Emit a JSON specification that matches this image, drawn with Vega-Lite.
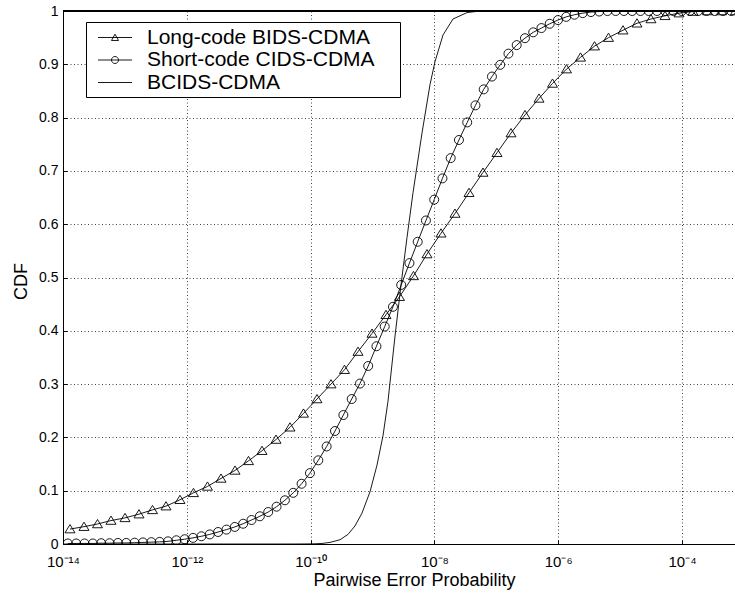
{
  "$schema": "https://vega.github.io/schema/vega-lite/v6.json",
  "width": 672,
  "height": 533,
  "autosize": {"type": "none"},
  "padding": {"left": 63, "top": 11, "right": 0, "bottom": 49},
  "background": "white",
  "config": {"view": {"stroke": null}, "font": "Liberation Sans"},
  "data": {"values": [
    {"series":"Long-code BIDS-CDMA","pep":1.297e-14,"cdf":0.028},
    {"series":"Long-code BIDS-CDMA","pep":2.183e-14,"cdf":0.0325},
    {"series":"Long-code BIDS-CDMA","pep":3.607e-14,"cdf":0.0375},
    {"series":"Long-code BIDS-CDMA","pep":5.96e-14,"cdf":0.044},
    {"series":"Long-code BIDS-CDMA","pep":1.004e-13,"cdf":0.049},
    {"series":"Long-code BIDS-CDMA","pep":1.690e-13,"cdf":0.056},
    {"series":"Long-code BIDS-CDMA","pep":2.793e-13,"cdf":0.064},
    {"series":"Long-code BIDS-CDMA","pep":4.613e-13,"cdf":0.071},
    {"series":"Long-code BIDS-CDMA","pep":7.762e-13,"cdf":0.083},
    {"series":"Long-code BIDS-CDMA","pep":1.282e-12,"cdf":0.096},
    {"series":"Long-code BIDS-CDMA","pep":2.158e-12,"cdf":0.108},
    {"series":"Long-code BIDS-CDMA","pep":3.568e-12,"cdf":0.123},
    {"series":"Long-code BIDS-CDMA","pep":6.012e-12,"cdf":0.138},
    {"series":"Long-code BIDS-CDMA","pep":9.93e-12,"cdf":0.156},
    {"series":"Long-code BIDS-CDMA","pep":1.641e-11,"cdf":0.175},
    {"series":"Long-code BIDS-CDMA","pep":2.761e-11,"cdf":0.196},
    {"series":"Long-code BIDS-CDMA","pep":4.645e-11,"cdf":0.219},
    {"series":"Long-code BIDS-CDMA","pep":7.674e-11,"cdf":0.245},
    {"series":"Long-code BIDS-CDMA","pep":1.269e-10,"cdf":0.272},
    {"series":"Long-code BIDS-CDMA","pep":2.136e-10,"cdf":0.300},
    {"series":"Long-code BIDS-CDMA","pep":3.529e-10,"cdf":0.327},
    {"series":"Long-code BIDS-CDMA","pep":5.834e-10,"cdf":0.361},
    {"series":"Long-code BIDS-CDMA","pep":9.817e-10,"cdf":0.395},
    {"series":"Long-code BIDS-CDMA","pep":1.652e-9,"cdf":0.430},
    {"series":"Long-code BIDS-CDMA","pep":2.729e-9,"cdf":0.464},
    {"series":"Long-code BIDS-CDMA","pep":4.596e-9,"cdf":0.503},
    {"series":"Long-code BIDS-CDMA","pep":7.594e-9,"cdf":0.544},
    {"series":"Long-code BIDS-CDMA","pep":1.278e-8,"cdf":0.583},
    {"series":"Long-code BIDS-CDMA","pep":2.151e-8,"cdf":0.620},
    {"series":"Long-code BIDS-CDMA","pep":3.622e-8,"cdf":0.659},
    {"series":"Long-code BIDS-CDMA","pep":6.095e-8,"cdf":0.697},
    {"series":"Long-code BIDS-CDMA","pep":1.026e-7,"cdf":0.734},
    {"series":"Long-code BIDS-CDMA","pep":1.728e-7,"cdf":0.771},
    {"series":"Long-code BIDS-CDMA","pep":2.909e-7,"cdf":0.805},
    {"series":"Long-code BIDS-CDMA","pep":4.896e-7,"cdf":0.836},
    {"series":"Long-code BIDS-CDMA","pep":8.089e-7,"cdf":0.864},
    {"series":"Long-code BIDS-CDMA","pep":1.361e-6,"cdf":0.891},
    {"series":"Long-code BIDS-CDMA","pep":2.293e-6,"cdf":0.913},
    {"series":"Long-code BIDS-CDMA","pep":3.858e-6,"cdf":0.934},
    {"series":"Long-code BIDS-CDMA","pep":6.494e-6,"cdf":0.950},
    {"series":"Long-code BIDS-CDMA","pep":1.114e-5,"cdf":0.964},
    {"series":"Long-code BIDS-CDMA","pep":1.875e-5,"cdf":0.977},
    {"series":"Long-code BIDS-CDMA","pep":3.155e-5,"cdf":0.985},
    {"series":"Long-code BIDS-CDMA","pep":5.313e-5,"cdf":0.991},
    {"series":"Long-code BIDS-CDMA","pep":8.944e-5,"cdf":0.996},
    {"series":"Long-code BIDS-CDMA","pep":1.507e-4,"cdf":0.999},
    {"series":"Long-code BIDS-CDMA","pep":2.582e-4,"cdf":1.0},
    {"series":"Long-code BIDS-CDMA","pep":4.345e-4,"cdf":1.0},
    {"series":"Long-code BIDS-CDMA","pep":7.311e-4,"cdf":1.0},
    {"series":"Short-code CIDS-CDMA","pep":1.1954e-14,"cdf":0.001},
    {"series":"Short-code CIDS-CDMA","pep":1.6312e-14,"cdf":0.001},
    {"series":"Short-code CIDS-CDMA","pep":2.2248e-14,"cdf":0.001},
    {"series":"Short-code CIDS-CDMA","pep":3.035e-14,"cdf":0.001},
    {"series":"Short-code CIDS-CDMA","pep":4.140e-14,"cdf":0.0015},
    {"series":"Short-code CIDS-CDMA","pep":5.649e-14,"cdf":0.0015},
    {"series":"Short-code CIDS-CDMA","pep":7.708e-14,"cdf":0.002},
    {"series":"Short-code CIDS-CDMA","pep":1.0515e-13,"cdf":0.002},
    {"series":"Short-code CIDS-CDMA","pep":1.4346e-13,"cdf":0.0025},
    {"series":"Short-code CIDS-CDMA","pep":1.957e-13,"cdf":0.003},
    {"series":"Short-code CIDS-CDMA","pep":2.670e-13,"cdf":0.0035},
    {"series":"Short-code CIDS-CDMA","pep":3.642e-13,"cdf":0.004},
    {"series":"Short-code CIDS-CDMA","pep":4.969e-13,"cdf":0.005},
    {"series":"Short-code CIDS-CDMA","pep":6.779e-13,"cdf":0.007},
    {"series":"Short-code CIDS-CDMA","pep":9.250e-13,"cdf":0.009},
    {"series":"Short-code CIDS-CDMA","pep":1.2618e-12,"cdf":0.0115},
    {"series":"Short-code CIDS-CDMA","pep":1.7215e-12,"cdf":0.0145},
    {"series":"Short-code CIDS-CDMA","pep":2.3486e-12,"cdf":0.018},
    {"series":"Short-code CIDS-CDMA","pep":3.204e-12,"cdf":0.0225},
    {"series":"Short-code CIDS-CDMA","pep":4.371e-12,"cdf":0.027},
    {"series":"Short-code CIDS-CDMA","pep":5.964e-12,"cdf":0.032},
    {"series":"Short-code CIDS-CDMA","pep":8.136e-12,"cdf":0.038},
    {"series":"Short-code CIDS-CDMA","pep":1.1096e-11,"cdf":0.045},
    {"series":"Short-code CIDS-CDMA","pep":1.5137e-11,"cdf":0.052},
    {"series":"Short-code CIDS-CDMA","pep":2.0654e-11,"cdf":0.060},
    {"series":"Short-code CIDS-CDMA","pep":2.8178e-11,"cdf":0.070},
    {"series":"Short-code CIDS-CDMA","pep":3.844e-11,"cdf":0.082},
    {"series":"Short-code CIDS-CDMA","pep":5.244e-11,"cdf":0.096},
    {"series":"Short-code CIDS-CDMA","pep":7.155e-11,"cdf":0.113},
    {"series":"Short-code CIDS-CDMA","pep":9.761e-11,"cdf":0.133},
    {"series":"Short-code CIDS-CDMA","pep":1.3316e-10,"cdf":0.157},
    {"series":"Short-code CIDS-CDMA","pep":1.8167e-10,"cdf":0.183},
    {"series":"Short-code CIDS-CDMA","pep":2.4784e-10,"cdf":0.212},
    {"series":"Short-code CIDS-CDMA","pep":3.3814e-10,"cdf":0.242},
    {"series":"Short-code CIDS-CDMA","pep":4.613e-10,"cdf":0.272},
    {"series":"Short-code CIDS-CDMA","pep":6.270e-10,"cdf":0.301},
    {"series":"Short-code CIDS-CDMA","pep":8.521e-10,"cdf":0.334},
    {"series":"Short-code CIDS-CDMA","pep":1.1582e-9,"cdf":0.371},
    {"series":"Short-code CIDS-CDMA","pep":1.5744e-9,"cdf":0.408},
    {"series":"Short-code CIDS-CDMA","pep":2.1397e-9,"cdf":0.445},
    {"series":"Short-code CIDS-CDMA","pep":2.9079e-9,"cdf":0.486},
    {"series":"Short-code CIDS-CDMA","pep":3.9530e-9,"cdf":0.527},
    {"series":"Short-code CIDS-CDMA","pep":5.3727e-9,"cdf":0.567},
    {"series":"Short-code CIDS-CDMA","pep":7.303e-9,"cdf":0.607},
    {"series":"Short-code CIDS-CDMA","pep":9.927e-9,"cdf":0.646},
    {"series":"Short-code CIDS-CDMA","pep":1.3490e-8,"cdf":0.686},
    {"series":"Short-code CIDS-CDMA","pep":1.8335e-8,"cdf":0.724},
    {"series":"Short-code CIDS-CDMA","pep":2.4922e-8,"cdf":0.758},
    {"series":"Short-code CIDS-CDMA","pep":3.3877e-8,"cdf":0.791},
    {"series":"Short-code CIDS-CDMA","pep":4.6047e-8,"cdf":0.823},
    {"series":"Short-code CIDS-CDMA","pep":6.257e-8,"cdf":0.853},
    {"series":"Short-code CIDS-CDMA","pep":8.505e-8,"cdf":0.877},
    {"series":"Short-code CIDS-CDMA","pep":1.1561e-7,"cdf":0.899},
    {"series":"Short-code CIDS-CDMA","pep":1.5715e-7,"cdf":0.920},
    {"series":"Short-code CIDS-CDMA","pep":2.1361e-7,"cdf":0.936},
    {"series":"Short-code CIDS-CDMA","pep":2.9025e-7,"cdf":0.949},
    {"series":"Short-code CIDS-CDMA","pep":3.9457e-7,"cdf":0.960},
    {"series":"Short-code CIDS-CDMA","pep":5.3628e-7,"cdf":0.968},
    {"series":"Short-code CIDS-CDMA","pep":7.289e-7,"cdf":0.976},
    {"series":"Short-code CIDS-CDMA","pep":9.908e-7,"cdf":0.983},
    {"series":"Short-code CIDS-CDMA","pep":1.3462e-6,"cdf":0.989},
    {"series":"Short-code CIDS-CDMA","pep":1.8301e-6,"cdf":0.993},
    {"series":"Short-code CIDS-CDMA","pep":2.4876e-6,"cdf":0.996},
    {"series":"Short-code CIDS-CDMA","pep":3.3814e-6,"cdf":0.998},
    {"series":"Short-code CIDS-CDMA","pep":4.5961e-6,"cdf":0.999},
    {"series":"Short-code CIDS-CDMA","pep":6.2455e-6,"cdf":1.0},
    {"series":"Short-code CIDS-CDMA","pep":8.490e-6,"cdf":1.0},
    {"series":"Short-code CIDS-CDMA","pep":1.1540e-5,"cdf":1.0},
    {"series":"Short-code CIDS-CDMA","pep":1.5686e-5,"cdf":1.0},
    {"series":"Short-code CIDS-CDMA","pep":2.1322e-5,"cdf":1.0},
    {"series":"Short-code CIDS-CDMA","pep":2.8973e-5,"cdf":1.0},
    {"series":"Short-code CIDS-CDMA","pep":3.9385e-5,"cdf":1.0},
    {"series":"Short-code CIDS-CDMA","pep":5.3530e-5,"cdf":1.0},
    {"series":"Short-code CIDS-CDMA","pep":7.276e-5,"cdf":1.0},
    {"series":"Short-code CIDS-CDMA","pep":9.890e-5,"cdf":1.0},
    {"series":"Short-code CIDS-CDMA","pep":1.3437e-4,"cdf":1.0},
    {"series":"Short-code CIDS-CDMA","pep":1.8267e-4,"cdf":1.0},
    {"series":"Short-code CIDS-CDMA","pep":2.4831e-4,"cdf":1.0},
    {"series":"Short-code CIDS-CDMA","pep":3.3752e-4,"cdf":1.0},
    {"series":"Short-code CIDS-CDMA","pep":4.5877e-4,"cdf":1.0},
    {"series":"Short-code CIDS-CDMA","pep":6.2340e-4,"cdf":1.0},
    {"series":"BCIDS-CDMA","pep":1e-14,"cdf":0},
    {"series":"BCIDS-CDMA","pep":4.645e-11,"cdf":0},
    {"series":"BCIDS-CDMA","pep":8.119e-11,"cdf":0.0001},
    {"series":"BCIDS-CDMA","pep":1.1777e-10,"cdf":0.0004},
    {"series":"BCIDS-CDMA","pep":1.5281e-10,"cdf":0.001},
    {"series":"BCIDS-CDMA","pep":2.058e-10,"cdf":0.003},
    {"series":"BCIDS-CDMA","pep":2.9854e-10,"cdf":0.008},
    {"series":"BCIDS-CDMA","pep":4.0197e-10,"cdf":0.018},
    {"series":"BCIDS-CDMA","pep":5.2157e-10,"cdf":0.034},
    {"series":"BCIDS-CDMA","pep":6.7672e-10,"cdf":0.058},
    {"series":"BCIDS-CDMA","pep":9.112e-10,"cdf":0.098},
    {"series":"BCIDS-CDMA","pep":1.1821e-9,"cdf":0.148},
    {"series":"BCIDS-CDMA","pep":1.4774e-9,"cdf":0.203},
    {"series":"BCIDS-CDMA","pep":1.7799e-9,"cdf":0.268},
    {"series":"BCIDS-CDMA","pep":2.3094e-9,"cdf":0.390},
    {"series":"BCIDS-CDMA","pep":2.8868e-9,"cdf":0.486},
    {"series":"BCIDS-CDMA","pep":3.6089e-9,"cdf":0.575},
    {"series":"BCIDS-CDMA","pep":4.5112e-9,"cdf":0.659},
    {"series":"BCIDS-CDMA","pep":6.3055e-9,"cdf":0.771},
    {"series":"BCIDS-CDMA","pep":8.490e-9,"cdf":0.862},
    {"series":"BCIDS-CDMA","pep":1.0226e-8,"cdf":0.905},
    {"series":"BCIDS-CDMA","pep":1.3769e-8,"cdf":0.955},
    {"series":"BCIDS-CDMA","pep":1.9976e-8,"cdf":0.985},
    {"series":"BCIDS-CDMA","pep":3.3627e-8,"cdf":0.997},
    {"series":"BCIDS-CDMA","pep":5.454e-8,"cdf":1.0},
    {"series":"BCIDS-CDMA","pep":1e-3,"cdf":1.0}
  ]},
  "layer": [
    {
      "mark": {"type": "line", "color": "black", "strokeWidth": 0.9, "clip": true},
      "encoding": {
        "x": {
          "field": "pep", "type": "quantitative",
          "scale": {"type": "log", "domain": [1e-14, 7.18e-4], "nice": false},
          "axis": {
            "values": [1e-14, 1e-12, 1e-10, 1e-8, 1e-6, 1e-4],
            "labelExpr": "datum.value < 5e-14 ? '10⁻¹⁴' : datum.value < 5e-12 ? '10⁻¹²' : datum.value < 5e-10 ? '10⁻¹⁰' : datum.value < 5e-8 ? '10⁻⁸' : datum.value < 5e-6 ? '10⁻⁶' : '10⁻⁴'",
            "title": "Pairwise Error Probability",
            "grid": true, "gridDash": [1, 2.5], "gridColor": "#000", "gridOpacity": 0.75, "gridWidth": 1,
            "ticks": true, "tickSize": -4, "tickColor": "#000", "tickWidth": 1,
            "domainColor": "#000", "domainWidth": 1,
            "labelFont": "Liberation Sans", "labelFontSize": 15, "labelColor": "#000", "labelPadding": 14,
            "labelFlush": false, "labelOverlap": false,
            "titleFont": "Liberation Sans", "titleFontSize": 18, "titleFontWeight": "normal", "titleColor": "#000",
            "titleX": 351, "titleY": 41, "titleBaseline": "alphabetic", "titleAlign": "center"
          }
        },
        "y": {
          "field": "cdf", "type": "quantitative",
          "scale": {"domain": [0, 1], "nice": false},
          "axis": {
            "values": [0, 0.1, 0.2, 0.3, 0.4, 0.5, 0.6, 0.7, 0.8, 0.9, 1],
            "format": "~g",
            "title": "CDF",
            "grid": true, "gridDash": [1, 2.5], "gridColor": "#000", "gridOpacity": 0.75, "gridWidth": 1,
            "ticks": true, "tickSize": -4, "tickColor": "#000", "tickWidth": 1,
            "domainColor": "#000", "domainWidth": 1,
            "labelFont": "Liberation Sans", "labelFontSize": 14, "labelColor": "#000", "labelPadding": 9,
            "labelFlush": false, "labelOverlap": false,
            "titleFont": "Liberation Sans", "titleFontSize": 18, "titleFontWeight": "normal", "titleColor": "#000",
            "titleX": -37, "titleY": 270, "titleAngle": -90, "titleBaseline": "alphabetic", "titleAlign": "center"
          }
        },
        "detail": {"field": "series"}
      }
    },
    {
      "transform": [{"filter": "datum.series !== 'BCIDS-CDMA'"}],
      "mark": {"type": "point", "filled": false, "color": "black", "strokeWidth": 0.9, "size": 100, "opacity": 1, "clip": true},
      "encoding": {
        "x": {"field": "pep", "type": "quantitative"},
        "y": {"field": "cdf", "type": "quantitative"},
        "shape": {
          "field": "series", "type": "nominal",
          "scale": {
            "domain": ["Long-code BIDS-CDMA", "Short-code CIDS-CDMA"],
            "range": ["M0,-0.9L1,0.75L-1,0.75Z", "M-0.9,0A0.9,0.9,0,1,0,0.9,0A0.9,0.9,0,1,0,-0.9,0Z"]
          },
          "legend": null
        }
      }
    },
    {
      "mark": {"type": "point", "filled": false, "color": "black", "strokeWidth": 0.9, "opacity": 0, "clip": true},
      "encoding": {
        "x": {"field": "pep", "type": "quantitative"},
        "y": {"field": "cdf", "type": "quantitative"},
        "shape": {
          "field": "series", "type": "nominal",
          "scale": {
            "domain": ["Long-code BIDS-CDMA", "Short-code CIDS-CDMA", "BCIDS-CDMA"],
            "range": [
              "M26.59,0M-0.318,0H2.773M1.227,-0.3L1.547,0.27L0.907,0.27Z",
              "M26.59,0M-0.318,0H2.773M0.909,0A0.318,0.318,0,1,0,1.545,0A0.318,0.318,0,1,0,0.909,0Z",
              "M26.59,0M-0.318,0H2.773"
            ]
          },
          "legend": {
            "orient": "none", "legendX": 23, "legendY": 11, "title": null,
            "padding": 4, "strokeColor": "#000", "fillColor": "#fff", "cornerRadius": 0,
            "rowPadding": 0.5, "symbolOffset": 0, "labelOffset": 34,
            "symbolSize": 484, "symbolStrokeWidth": 0.9, "symbolStrokeColor": "#000",
            "symbolFillColor": "transparent", "symbolOpacity": 1,
            "labelFont": "Liberation Sans", "labelFontSize": 21, "labelColor": "#000", "labelLimit": 400
          }
        }
      }
    },
    {
      "mark": {"type": "rule", "color": "black", "strokeWidth": 1},
      "encoding": {"y": {"datum": 1}}
    }
  ],
  "resolve": {"scale": {"shape": "independent"}, "legend": {"shape": "independent"}}
}
